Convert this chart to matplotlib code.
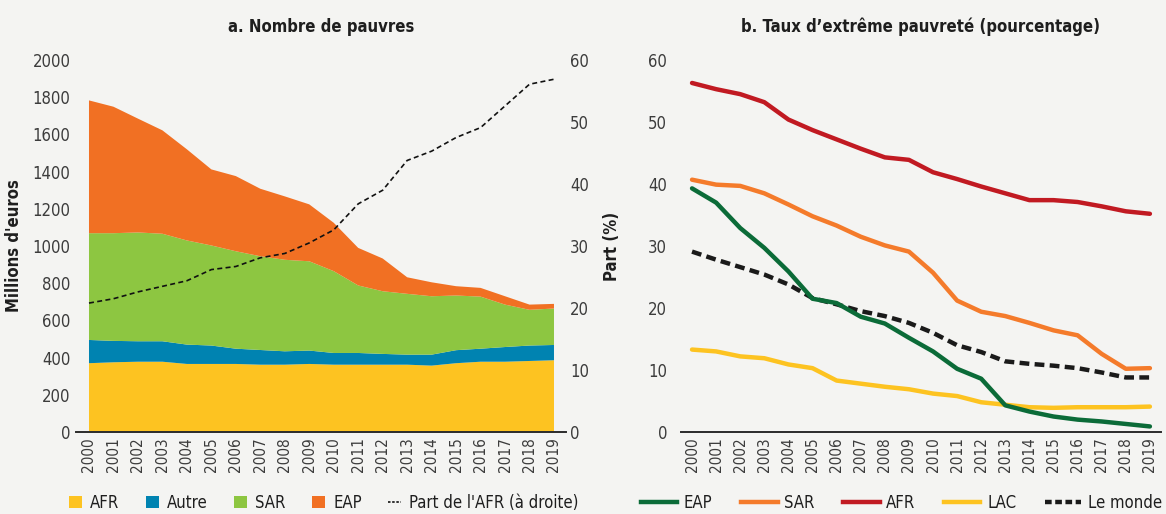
import numpy as np
import matplotlib
matplotlib.use("Agg")
import matplotlib.pyplot as plt
from matplotlib.patches import Patch
from matplotlib.lines import Line2D

plt.rcParams['font.family'] = ['DejaVu Sans']
plt.rcParams['font.stretch'] = 'condensed'

# --- data -------------------------------------------------------------
years = list(range(2000, 2020))

# a. nombre de pauvres (millions), par région
afr = [370, 375, 378, 378, 366, 366, 366, 362, 362, 366,
       362, 362, 362, 362, 357, 370, 378, 378, 382, 386]
autre = [125, 115, 110, 110, 104, 99, 82, 79, 72, 72,
         63, 63, 58, 54, 59, 70, 70, 79, 83, 82]
sar = [574, 579, 585, 578, 560, 538, 524, 504, 492, 480,
       440, 363, 337, 327, 314, 294, 280, 228, 192, 196]
eap = [714, 680, 612, 556, 490, 409, 404, 363, 341, 306,
       260, 202, 176, 89, 75, 50, 47, 45, 28, 25]
part_afr = [20.8, 21.5, 22.6, 23.5, 24.4, 26.2, 26.7, 28.1, 28.8, 30.5,
            32.6, 36.8, 39.0, 43.8, 45.3, 47.5, 49.1, 52.6, 56.1, 56.9]

# b. taux d'extrême pauvreté (%)
taux_eap = [39.3, 37.0, 32.9, 29.7, 25.9, 21.5, 20.8, 18.6, 17.5, 15.2,
            13.0, 10.2, 8.6, 4.3, 3.3, 2.5, 2.0, 1.7, 1.3, 0.9]
taux_sar = [40.7, 39.9, 39.7, 38.5, 36.7, 34.8, 33.3, 31.5, 30.1, 29.1,
            25.7, 21.2, 19.4, 18.7, 17.6, 16.4, 15.6, 12.6, 10.2, 10.3]
taux_afr = [56.3, 55.3, 54.5, 53.2, 50.4, 48.7, 47.2, 45.7, 44.3, 43.9,
            41.9, 40.8, 39.6, 38.5, 37.4, 37.4, 37.1, 36.4, 35.6, 35.2]
taux_lac = [13.3, 13.0, 12.2, 11.9, 10.9, 10.3, 8.3, 7.8, 7.3, 6.9,
            6.2, 5.8, 4.8, 4.4, 4.0, 3.9, 4.0, 4.0, 4.0, 4.1]
taux_monde = [29.1, 27.8, 26.6, 25.4, 23.8, 21.6, 20.6, 19.5, 18.7, 17.6,
              16.0, 14.0, 12.9, 11.4, 11.0, 10.7, 10.3, 9.6, 8.8, 8.8]

# --- style ------------------------------------------------------------
BG = '#f4f4f2'
TXT = '#3c3c3c'
DARK = '#1e1e1e'
C_AFR = '#fdc321'
C_AUTRE = '#0083b1'
C_SAR = '#8dc641'
C_EAP = '#f17023'
L_EAP = '#0b6b38'
L_SAR = '#f47b2b'
L_AFR = '#c11a22'
L_LAC = '#fdc321'
FS = 11

fig = plt.figure(figsize=(11.66, 5.14), dpi=100, facecolor=BG)
x = np.arange(len(years))


def style_axis(ax):
    ax.set_facecolor(BG)
    for s in ['top', 'left', 'right']:
        ax.spines[s].set_visible(False)
    ax.spines['bottom'].set_color('#2b2b2b')
    ax.spines['bottom'].set_linewidth(1.4)
    ax.set_xticks(x)
    ax.set_xticklabels([str(y) for y in years], rotation=90, fontsize=FS,
                       color=TXT)
    ax.tick_params(axis='x', length=0, pad=4)
    ax.tick_params(axis='y', length=0, labelsize=FS + 1, labelcolor=TXT)


# --- a. Nombre de pauvres -------------------------------------------------
ax1 = fig.add_axes([0.0652, 0.1595, 0.4202, 0.7237])
style_axis(ax1)
ax1.stackplot(x, afr, autre, sar, eap,
              colors=[C_AFR, C_AUTRE, C_SAR, C_EAP], linewidth=0)
ax1.set_xlim(-0.53, 19.49)
ax1.set_ylim(0, 2000)
ax1.set_yticks(range(0, 2001, 200))
ax1.tick_params(axis='y', pad=4)
ax1.set_ylabel("Millions d'euros", fontsize=FS + 1, fontweight='bold',
               color=DARK, labelpad=7)
ax1.set_title('a. Nombre de pauvres', fontsize=FS + 1, fontweight='bold',
              color=DARK, pad=20)

ax1b = ax1.twinx()
for s in ['top', 'left', 'right', 'bottom']:
    ax1b.spines[s].set_visible(False)
ax1b.plot(x, part_afr, color='#111111', lw=1.2, ls=(0, (3, 2)))
ax1b.set_ylim(0, 60)
ax1b.set_yticks(range(0, 61, 10))
ax1b.tick_params(axis='y', length=0, labelsize=FS + 1, labelcolor=TXT, pad=3)
ax1b.set_ylabel('Part (%)', fontsize=FS + 1, fontweight='bold', color=DARK,
                labelpad=10)

leg1 = [Patch(facecolor=C_AFR, label='AFR'),
        Patch(facecolor=C_AUTRE, label='Autre'),
        Patch(facecolor=C_SAR, label='SAR'),
        Patch(facecolor=C_EAP, label='EAP'),
        Line2D([], [], color='#111111', lw=1.2, ls=(0, (1.5, 1)),
               label="Part de l'AFR (à droite)")]
ax1.legend(handles=leg1, loc='center', bbox_to_anchor=(0.278, 0.022),
           bbox_transform=fig.transFigure, ncol=5, frameon=False,
           fontsize=FS + 1, handlelength=0.75, handleheight=0.75,
           handletextpad=0.5, columnspacing=1.6, labelcolor=DARK)

# --- b. Taux d'extrême pauvreté -------------------------------------------
ax2 = fig.add_axes([0.584, 0.1595, 0.4117, 0.7237])
style_axis(ax2)
ax2.plot(x, taux_afr, color=L_AFR, lw=3.2, solid_capstyle='round')
ax2.plot(x, taux_sar, color=L_SAR, lw=3.2, solid_capstyle='round')
ax2.plot(x, taux_lac, color=L_LAC, lw=3.2, solid_capstyle='round')
ax2.plot(x, taux_monde, color='#1a1a1a', lw=3.2, ls=(0, (2.2, 1.2)))
ax2.plot(x, taux_eap, color=L_EAP, lw=3.2, solid_capstyle='round')
ax2.set_xlim(-0.46, 19.46)
ax2.set_ylim(0, 60)
ax2.set_yticks(range(0, 61, 10))
ax2.tick_params(axis='y', pad=10)
ax2.set_title("b. Taux d’extrême pauvreté (pourcentage)", fontsize=FS + 1,
              fontweight='bold', color=DARK, pad=20)

leg2 = [Line2D([], [], color=L_EAP, lw=3.2, label='EAP'),
        Line2D([], [], color=L_SAR, lw=3.2, label='SAR'),
        Line2D([], [], color=L_AFR, lw=3.2, label='AFR'),
        Line2D([], [], color=L_LAC, lw=3.2, label='LAC'),
        Line2D([], [], color='#1a1a1a', lw=3.2, ls=(0, (1.5, 0.8)),
               label='Le monde')]
ax2.legend(handles=leg2, loc='center', bbox_to_anchor=(0.773, 0.022),
           bbox_transform=fig.transFigure, ncol=5, frameon=False,
           fontsize=FS + 1, handlelength=2.2, handletextpad=0.4,
           columnspacing=1.7, labelcolor=DARK)

fig.savefig('out.png', dpi=100, facecolor=BG)
